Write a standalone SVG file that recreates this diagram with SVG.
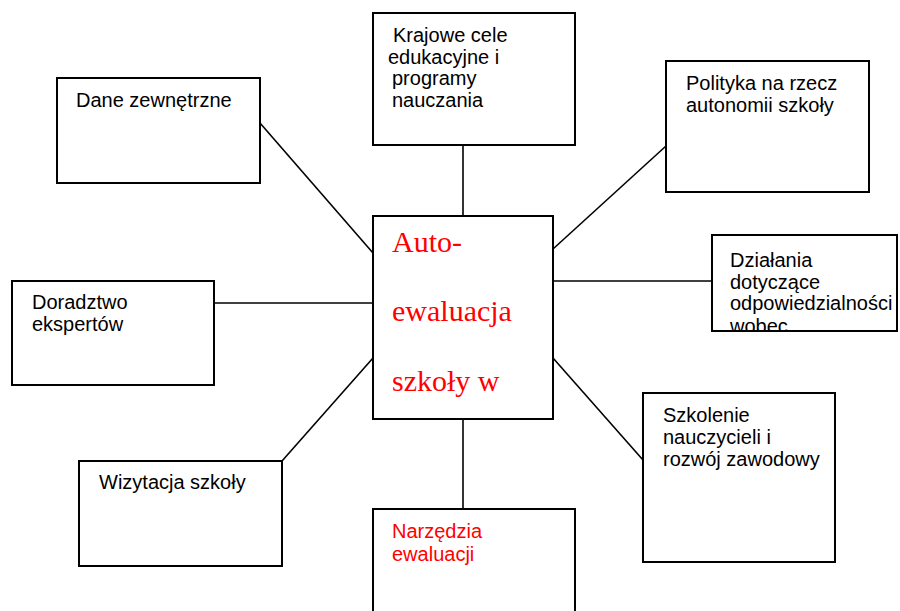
<svg xmlns="http://www.w3.org/2000/svg" width="900" height="611" viewBox="0 0 900 611">
<style>
.box{fill:#fff;stroke:#000;stroke-width:2}
.con{stroke:#000;stroke-width:1.6;fill:none}
.t{font-family:"Liberation Sans",Arial,sans-serif;font-size:20px;fill:#000}
.r{fill:#ff0000}
.c{font-family:"Liberation Serif","Times New Roman",serif;font-size:30px;fill:#ff0000}
</style>
<defs>
<clipPath id="clipDz"><rect x="712" y="235" width="185" height="96"/></clipPath>
</defs>
<rect width="900" height="611" fill="#fff"/>
<g id="connectors">
<line class="con" x1="463" y1="145" x2="463" y2="216"/>
<line class="con" x1="463" y1="419" x2="463" y2="509"/>
<line class="con" x1="260" y1="123" x2="373" y2="253"/>
<line class="con" x1="666" y1="146" x2="553" y2="249"/>
<line class="con" x1="214" y1="303" x2="373" y2="303"/>
<line class="con" x1="553" y1="281" x2="712" y2="281"/>
<line class="con" x1="282" y1="461" x2="373" y2="358"/>
<line class="con" x1="553" y1="358" x2="643" y2="460"/>
</g>
<g id="center">
<rect class="box" x="373" y="216" width="180" height="203"/>
<text class="c" x="392" y="252">Auto-</text>
<text class="c" x="392" y="321">ewaluacja</text>
<text class="c" x="392" y="391">szkoły w</text>
</g>
<g id="krajowe">
<rect class="box" x="373" y="13" width="202" height="132"/>
<text class="t" x="393" y="42">Krajowe cele</text>
<text class="t" x="388" y="64">edukacyjne i</text>
<text class="t" x="392" y="85">programy</text>
<text class="t" x="392" y="107">nauczania</text>
</g>
<g id="dane">
<rect class="box" x="57" y="78" width="203" height="105"/>
<text class="t" x="76" y="107">Dane zewnętrzne</text>
</g>
<g id="polityka">
<rect class="box" x="666" y="61" width="203" height="131"/>
<text class="t" x="686" y="90">Polityka na rzecz</text>
<text class="t" x="686" y="112">autonomii szkoły</text>
</g>
<g id="dzialania">
<rect class="box" x="712" y="235" width="185" height="96"/>
<g clip-path="url(#clipDz)">
<text class="t" x="730" y="267">Działania</text>
<text class="t" x="730" y="289">dotyczące</text>
<text class="t" x="730" y="310">odpowiedzialności</text>
<text class="t" x="730" y="333">wobec</text>
</g>
</g>
<g id="doradztwo">
<rect class="box" x="12" y="281" width="202" height="104"/>
<text class="t" x="32" y="309">Doradztwo</text>
<text class="t" x="32" y="331">ekspertów</text>
</g>
<g id="szkolenie">
<rect class="box" x="643" y="393" width="192" height="169"/>
<text class="t" x="663" y="422">Szkolenie</text>
<text class="t" x="663" y="444">nauczycieli i</text>
<text class="t" x="663" y="466">rozwój zawodowy</text>
</g>
<g id="wizytacja">
<rect class="box" x="79" y="461" width="203" height="105"/>
<text class="t" x="99" y="489">Wizytacja szkoły</text>
</g>
<g id="narzedzia">
<rect class="box" x="373" y="509" width="202" height="110"/>
<text class="t r" x="392" y="538">Narzędzia</text>
<text class="t r" x="392" y="561">ewaluacji</text>
</g>
</svg>
